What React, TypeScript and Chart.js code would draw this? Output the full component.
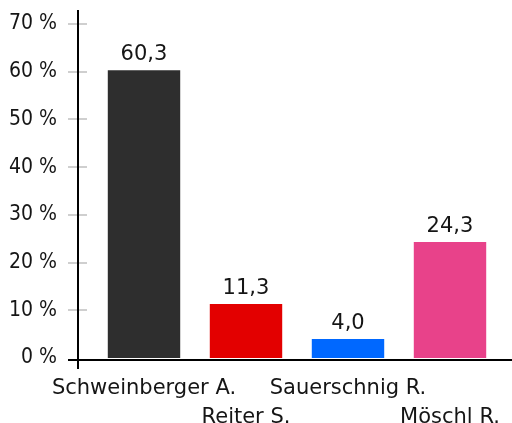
import React, { useEffect, useRef } from "react";
import { Chart, registerables } from "chart.js";

Chart.register(...registerables);

const categories = ["Schweinberger A.", "Reiter S.", "Sauerschnig R.", "Möschl R."];
const values = [60.3, 11.3, 4.0, 24.3];
const colors = ["#2e2e2e", "#e30000", "#0068ff", "#e8428a"];
const yTicks = [0, 10, 20, 30, 40, 50, 60, 70];

const FONT = "'DejaVu Sans', sans-serif";
const FONT_C = "'DejaVu Sans Condensed', 'DejaVu Sans', sans-serif";

const axisPlugin = {
  id: "customAxes",
  afterDraw(chart: any) {
    const { ctx, chartArea } = chart;
    const y = chart.scales.y;
    const left = chartArea.left;
    const bottom = chartArea.bottom;
    ctx.save();
    ctx.strokeStyle = "#cfcfcf";
    ctx.lineWidth = 2;
    yTicks.forEach((t) => {
      if (t === 0) return;
      const py = Math.round(y.getPixelForValue(t));
      ctx.beginPath();
      ctx.moveTo(left - 25, py);
      ctx.lineTo(left - 6, py);
      ctx.stroke();
    });
    ctx.strokeStyle = "#000";
    ctx.lineWidth = 2;
    ctx.beginPath();
    ctx.moveTo(left - 15, chartArea.top - 14);
    ctx.lineTo(left - 15, bottom + 11);
    ctx.stroke();
    ctx.beginPath();
    ctx.moveTo(left - 25, bottom + 2);
    ctx.lineTo(chart.width, bottom + 2);
    ctx.stroke();
    const meta = chart.getDatasetMeta(0);
    ctx.fillStyle = "#151515";
    ctx.font = `21px ${FONT}`;
    ctx.textAlign = "center";
    ctx.textBaseline = "alphabetic";
    meta.data.forEach((bar: any, i: number) => {
      const txt = values[i].toFixed(1).replace(".", ",");
      ctx.fillText(txt, bar.x, bar.y - 10);
    });
    ctx.restore();
  },
};

export default function App() {
  const ref = useRef<HTMLCanvasElement>(null);
  useEffect(() => {
    if (!ref.current) return;
    const labels = categories.map((c, i) => (i % 2 === 0 ? [c, ""] : ["", c]));
    const chart = new Chart(ref.current, {
      type: "bar",
      data: {
        labels,
        datasets: [
          {
            data: values,
            backgroundColor: colors,
            borderWidth: 0,
            barPercentage: 0.71,
            categoryPercentage: 1,
          },
        ],
      },
      options: {
        animation: false,
        responsive: false,
        maintainAspectRatio: false,
        layout: { padding: { top: 24, right: 11, left: 0, bottom: 0 } },
        plugins: { legend: { display: false }, tooltip: { enabled: false } },
        scales: {
          x: {
            grid: { display: false, drawTicks: false },
            border: { display: false },
            ticks: {
              color: "#151515",
              font: { family: FONT, size: 21, lineHeight: 1.38 },
              padding: 16,
              maxRotation: 0,
              autoSkip: false,
            },
            afterFit(scale: any) {
              scale.height = 65;
              scale.paddingLeft = 0;
              scale.paddingRight = 0;
            },
          },
          y: {
            min: 0,
            max: 70,
            grid: { display: false, drawTicks: false },
            border: { display: false },
            afterBuildTicks(scale: any) {
              scale.ticks = yTicks.map((v) => ({ value: v }));
            },
            ticks: {
              color: "#151515",
              font: { family: FONT_C, size: 21 },
              padding: 36,
              callback: (v: any) => `${v} %`,
            },
            afterFit(scale: any) {
              scale.width = 93;
              scale.paddingTop = 0;
              scale.paddingBottom = 0;
            },
          },
        },
      },
      plugins: [axisPlugin],
    });
    return () => chart.destroy();
  }, []);
  return (
    <div style={{ position: "fixed", left: 0, top: 0, width: 512, height: 423, background: "#fff" }}>
      <canvas ref={ref} width={512} height={423} style={{ width: 512, height: 423 }} />
    </div>
  );
}
